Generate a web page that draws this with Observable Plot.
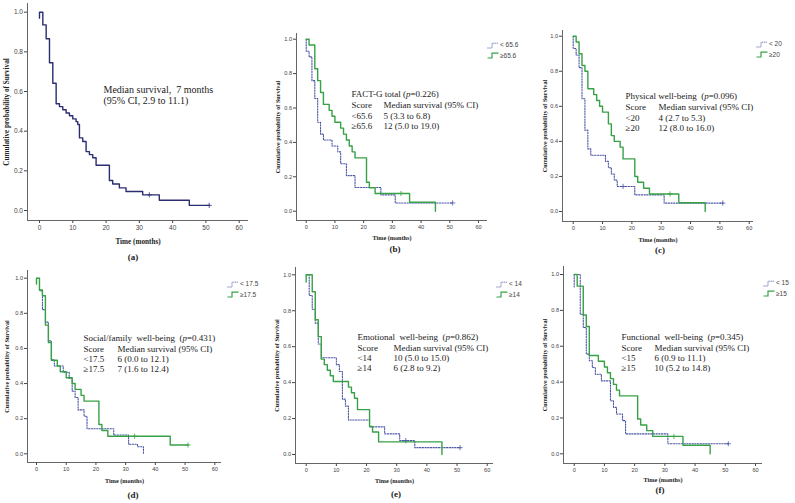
<!DOCTYPE html>
<html>
<head>
<meta charset="utf-8">
<script src="https://cdn.jsdelivr.net/npm/d3@7"></script>
<script src="https://cdn.jsdelivr.net/npm/@observablehq/plot@0.6"></script>
<style>
  body { margin: 0; background: #fff; }
  #fig { position: relative; width: 795px; height: 503px; background: #fff; overflow: hidden; }
  .lbl { position: absolute; font-family: "Liberation Serif", serif; font-weight: bold; font-size: 9px; color: #222; transform: translate(-50%, -50%); white-space: nowrap; }
  .leg { position: absolute; font-family: "Liberation Sans", sans-serif; font-size: 6.5px; color: #444; white-space: nowrap; line-height: 1; }
  .leg div { display: flex; align-items: center; height: 10.5px; }
  .leg svg { margin-right: 1px; }
</style>
</head>
<body>
<div id="fig"></div>
<script>
// ---------------- data ----------------
const xTicks = [0, 10, 20, 30, 40, 50, 60];
const yTicks = [0, 0.2, 0.4, 0.6, 0.8, 1.0];
const xTitle = "Time (months)";
const yTitle = "Cumulative probability of Survival";
const panelLetters = ["(a)", "(b)", "(c)", "(d)", "(e)", "(f)"];
const blue = "#4a55a5";
const green = "#37a146";
const navy = "#2a2d72";

// (a) all patients
const aTimes = [0, 0, 1, 2, 3, 4, 5, 6, 7, 8, 9, 10, 11, 11.5, 12, 13, 14, 15, 16, 17, 21, 22, 24, 26, 31, 36, 45, 51];
const aSurv  = [0.97, 1, 0.936, 0.866, 0.745, 0.642, 0.538, 0.524, 0.508, 0.492, 0.478, 0.462, 0.448, 0.434, 0.366, 0.348, 0.297, 0.282, 0.266, 0.228, 0.151, 0.134, 0.114, 0.096, 0.079, 0.052, 0.026, 0.026];
const aCensT = [33, 51];
const aCensS = [0.079, 0.026];
const aNote = ["Median survival,  7 months", "(95% CI, 2.9 to 11.1)"];

// (b) FACT-G total
const bTitle = "FACT-G total (p=0.226)";
const bLegend = ["< 65.6", "\u226565.6"];
const bScores = ["Score", "<65.6", "\u226565.6"];
const bMedians = ["Median survival (95% CI)", "5 (3.3 to 6.8)", "12 (5.0 to 19.0)"];
const bLowT = [0, 0, 1, 2, 3, 4, 5, 6, 9, 11, 12, 14, 17, 26, 31, 51];
const bLowS = [1, 0.93, 0.897, 0.759, 0.655, 0.517, 0.448, 0.414, 0.379, 0.345, 0.276, 0.207, 0.138, 0.095, 0.048, 0.048];
const bLowCensT = [51], bLowCensS = [0.048];
const bHighT = [0, 1, 3, 4, 5, 6, 8, 9, 10, 12, 13, 14, 15, 16, 17, 21, 22, 24, 36, 45];
const bHighS = [1, 0.966, 0.828, 0.759, 0.69, 0.621, 0.586, 0.552, 0.517, 0.483, 0.448, 0.414, 0.379, 0.345, 0.31, 0.168, 0.136, 0.103, 0.052, 0];
const bHighCensT = [33], bHighCensS = [0.103];

// (c) Physical well-being
const cTitle = "Physical well-being  (p=0.096)";
const cLegend = ["< 20", "\u226520"];
const cScores = ["Score", "<20", "\u226520"];
const cMedians = ["Median survival (95% CI)", "4 (2.7 to 5.3)", "12 (8.0 to 16.0)"];
const cLowT = [0, 0, 1, 2, 3, 4, 5, 6, 11, 12, 13, 14, 15, 21, 31, 51];
const cLowS = [1, 0.93, 0.893, 0.821, 0.643, 0.464, 0.357, 0.321, 0.286, 0.25, 0.214, 0.179, 0.143, 0.095, 0.048, 0.048];
const cLowCensT = [17, 51], cLowCensS = [0.143, 0.048];
const cHighT = [0, 1, 2, 3, 4, 5, 7, 8, 9, 10, 12, 13, 14, 16, 17, 21, 22, 24, 26, 36, 45];
const cHighS = [1, 0.967, 0.9, 0.833, 0.8, 0.7, 0.667, 0.633, 0.6, 0.567, 0.5, 0.433, 0.4, 0.367, 0.3, 0.2, 0.167, 0.133, 0.1, 0.05, 0];
const cHighCensT = [33], cHighCensS = [0.1];

// (d) Social/family well-being
const dTitle = "Social/family  well-being  (p=0.431)";
const dLegend = ["< 17.5", "\u226517.5"];
const dScores = ["Score", "<17.5", "\u226517.5"];
const dMedians = ["Median survival (95% CI)", "6 (0.0 to 12.1)", "7 (1.6 to 12.4)"];
const dLowT = [0, 1, 2, 3, 4, 5, 6, 9, 11, 12, 13, 14, 16, 17, 26, 31, 34, 36];
const dLowS = [1, 0.929, 0.821, 0.75, 0.643, 0.536, 0.5, 0.464, 0.429, 0.357, 0.321, 0.25, 0.214, 0.143, 0.107, 0.054, 0.04, 0];
const dLowCensT = [], dLowCensS = [];
const dHighT = [0, 0, 1, 2, 3, 4, 5, 7, 8, 10, 12, 13, 15, 16, 21, 22, 24, 45, 51];
const dHighS = [0.967, 1, 0.933, 0.9, 0.733, 0.633, 0.533, 0.5, 0.467, 0.433, 0.4, 0.367, 0.333, 0.3, 0.167, 0.133, 0.1, 0.05, 0.05];
const dHighCensT = [33, 51], dHighCensS = [0.1, 0.05];

// (e) Emotional well-being
const eTitle = "Emotional  well-being  (p=0.862)";
const eLegend = ["< 14", "\u226514"];
const eScores = ["Score", "<14", "\u226514"];
const eMedians = ["Median survival (95% CI)", "10 (5.0 to 15.0)", "6 (2.8 to 9.2)"];
const eLowT = [0, 1, 2, 3, 4, 5, 10, 11, 12, 13, 14, 21, 26, 31, 36, 51];
const eLowS = [1, 0.885, 0.808, 0.731, 0.615, 0.538, 0.5, 0.462, 0.308, 0.269, 0.192, 0.154, 0.115, 0.077, 0.038, 0.038];
const eLowCensT = [33, 51], eLowCensS = [0.077, 0.038];
const eHighT = [0, 0, 2, 3, 4, 5, 6, 7, 8, 9, 14, 15, 16, 17, 21, 22, 24, 45];
const eHighS = [0.96, 1, 0.906, 0.75, 0.656, 0.531, 0.5, 0.469, 0.438, 0.406, 0.375, 0.344, 0.313, 0.25, 0.156, 0.125, 0.07, 0];
const eHighCensT = [], eHighCensS = [];

// (f) Functional well-being
const fTitle = "Functional  well-being  (p=0.345)";
const fLegend = ["< 15", "\u226515"];
const fScores = ["Score", "<15", "\u226515"];
const fMedians = ["Median survival (95% CI)", "6 (0.9 to 11.1)", "10 (5.2 to 14.8)"];
const fLowT = [0, 0, 2, 3, 4, 5, 6, 7, 9, 12, 13, 14, 16, 17, 31, 51];
const fLowS = [0.93, 1, 0.778, 0.704, 0.556, 0.519, 0.481, 0.444, 0.407, 0.296, 0.259, 0.222, 0.185, 0.111, 0.056, 0.056];
const fLowCensT = [51], fLowCensS = [0.056];
const fHighT = [0, 1, 3, 4, 5, 8, 10, 11, 12, 13, 14, 15, 21, 22, 24, 26, 36, 45];
const fHighS = [1, 0.935, 0.774, 0.71, 0.548, 0.516, 0.484, 0.452, 0.419, 0.387, 0.355, 0.323, 0.194, 0.161, 0.129, 0.097, 0.048, 0];
const fHighCensT = [33], fHighCensS = [0.097];

// ---------------- helpers ----------------
const pts = (T, S) => T.map((t, i) => ({t, s: S[i]}));

function series(T, S, CT, CS, color, dotted) {
  return {data: pts(T, S), cens: pts(CT, CS), color, dotted};
}

const panels = [
  {letter: panelLetters[0], lay: {axL: 27, axR: 248, axT: 3, axB: 220, x0: 39, x60: 238.7, y1: 11.7, y0: 210},
   ylabDx: -21, timeDy: 21, tickFs: 6.5, labFs: 7.2, noteFs: 10,
   series: [series(aTimes, aSurv, aCensT, aCensS, navy, false)],
   note: {x: 103, y: 89, gap: 11.5, lines: aNote},
   label: {x: 133, y: 257}},
  {letter: panelLetters[1], lay: {axL: 296, axR: 487, axT: 33, axB: 220, x0: 305.7, x60: 478, y1: 38.7, y0: 210.7},
   ylabDx: -18, timeDy: 18, tickFs: 5.6, labFs: 6.2, noteFs: 9,
   series: [series(bLowT, bLowS, bLowCensT, bLowCensS, blue, true), series(bHighT, bHighS, bHighCensT, bHighCensS, green, false)],
   block: {x: 351, x2: 383, y: 94, gap: 10.6, title: bTitle, c1: bScores, c2: bMedians},
   legend: {x: 487, y: 40, labels: bLegend},
   label: {x: 395, y: 249}},
  {letter: panelLetters[2], lay: {axL: 562, axR: 753, axT: 30, axB: 221, x0: 572.7, x60: 748.7, y1: 35.7, y0: 211},
   ylabDx: -17, timeDy: 19, tickFs: 5.6, labFs: 6.2, noteFs: 9,
   series: [series(cLowT, cLowS, cLowCensT, cLowCensS, blue, true), series(cHighT, cHighS, cHighCensT, cHighCensS, green, false)],
   block: {x: 625, x2: 658, y: 96, gap: 10.7, title: cTitle, c1: cScores, c2: cMedians},
   legend: {x: 756, y: 39, labels: cLegend},
   label: {x: 660, y: 250}},
  {letter: panelLetters[3], lay: {axL: 27, axR: 221, axT: 270, axB: 462, x0: 36, x60: 214.3, y1: 277.7, y0: 453.3},
   ylabDx: -20, timeDy: 19, tickFs: 5.6, labFs: 6.2, noteFs: 9,
   series: [series(dLowT, dLowS, dLowCensT, dLowCensS, blue, true), series(dHighT, dHighS, dHighCensT, dHighCensS, green, false)],
   block: {x: 83, x2: 117, y: 338, gap: 10.2, title: dTitle, c1: dScores, c2: dMedians},
   legend: {x: 227, y: 279, labels: dLegend},
   label: {x: 133, y: 495}},
  {letter: panelLetters[4], lay: {axL: 295, axR: 493, axT: 267, axB: 463, x0: 305.7, x60: 486.7, y1: 274.3, y0: 454},
   ylabDx: -18, timeDy: 18, tickFs: 5.6, labFs: 6.2, noteFs: 9,
   series: [series(eLowT, eLowS, eLowCensT, eLowCensS, blue, true), series(eHighT, eHighS, eHighCensT, eHighCensS, green, false)],
   block: {x: 357, x2: 393, y: 337, gap: 10.3, title: eTitle, c1: eScores, c2: eMedians},
   legend: {x: 496, y: 279, labels: eLegend},
   label: {x: 396, y: 494}},
  {letter: panelLetters[5], lay: {axL: 563, axR: 762, axT: 266, axB: 463, x0: 573.7, x60: 755, y1: 274, y0: 453.3},
   ylabDx: -18, timeDy: 17, tickFs: 5.6, labFs: 6.2, noteFs: 9,
   series: [series(fLowT, fLowS, fLowCensT, fLowCensS, blue, true), series(fHighT, fHighS, fHighCensT, fHighCensS, green, false)],
   block: {x: 621, x2: 654, y: 337, gap: 10.3, title: fTitle, c1: fScores, c2: fMedians},
   legend: {x: 763, y: 278, labels: fLegend},
   label: {x: 660, y: 490}}
];

const fig = document.getElementById("fig");
const ML = 26, MT = 6, MR = 6, MB = 32;

function italicP(svg) {
  svg.querySelectorAll("text").forEach(t => {
    if (t.children.length === 0 && t.textContent.includes("(p=")) {
      const [pre, post] = t.textContent.split("(p=");
      t.textContent = "";
      t.appendChild(document.createTextNode(pre + "("));
      const ts = document.createElementNS("http://www.w3.org/2000/svg", "tspan");
      ts.setAttribute("font-style", "italic");
      ts.textContent = "p";
      t.appendChild(ts);
      t.appendChild(document.createTextNode("=" + post));
    }
  });
}

panels.forEach(p => {
  const L = p.lay;
  const kx = (L.x60 - L.x0) / 60;
  const ky = (L.y0 - L.y1);
  const xDom = [(L.axL - L.x0) / kx, (L.axR - L.x0) / kx];
  const yDom = [(L.y0 - L.axB) / ky, (L.y0 - L.axT) / ky];
  const width = (L.axR - L.axL) + ML + MR;
  const height = (L.axB - L.axT) + MT + MB;
  const serif = "Liberation Serif, Times New Roman, serif";

  const marks = [
    Plot.ruleX([xDom[0]], {stroke: "#555", strokeWidth: 0.9}),
    Plot.ruleY([yDom[0]], {stroke: "#555", strokeWidth: 0.9})
  ];
  p.series.forEach(s => {
    marks.push(Plot.line(s.data, {x: "t", y: "s", curve: "step-after", stroke: s.color,
      strokeWidth: s.dotted ? 1.1 : 1.4, strokeDasharray: s.dotted ? "1.3,1.4" : null}));
    if (s.cens.length) marks.push(Plot.dot(s.cens, {x: "t", y: "s", symbol: "plus", r: 1.8, stroke: s.color, strokeWidth: 0.8}));
  });
  marks.push(Plot.text([xTitle], {text: d => d, frameAnchor: "bottom", dy: p.timeDy, fontFamily: serif,
    fontWeight: "bold", fontSize: p.labFs, fill: "#222", lineAnchor: "middle"}));
  marks.push(Plot.text([yTitle], {text: d => d, frameAnchor: "left", dx: p.ylabDx, rotate: -90, fontFamily: serif,
    fontWeight: "bold", fontSize: p.labFs, fill: "#222", textAnchor: "middle", lineAnchor: "middle"}));

  if (p.note) {
    p.note.lines.forEach((ln, i) => {
      marks.push(Plot.text([ln], {text: d => d, frameAnchor: "top-left", dx: p.note.x - L.axL, dy: p.note.y + i * p.note.gap - L.axT,
        fontFamily: serif, fontSize: p.noteFs, fill: "#222", textAnchor: "start", lineAnchor: "middle"}));
    });
  }
  if (p.block) {
    const B = p.block;
    marks.push(Plot.text([B.title], {text: d => d, frameAnchor: "top-left", dx: B.x - L.axL, dy: B.y - L.axT,
      fontFamily: serif, fontSize: p.noteFs, fill: "#222", textAnchor: "start", lineAnchor: "middle"}));
    B.c1.forEach((c, i) => {
      marks.push(Plot.text([c], {text: d => d, frameAnchor: "top-left", dx: B.x - L.axL, dy: B.y + (i + 1) * B.gap - L.axT,
        fontFamily: serif, fontSize: p.noteFs, fill: "#222", textAnchor: "start", lineAnchor: "middle"}));
      marks.push(Plot.text([B.c2[i]], {text: d => d, frameAnchor: "top-left", dx: B.x2 - L.axL, dy: B.y + (i + 1) * B.gap - L.axT,
        fontFamily: serif, fontSize: p.noteFs, fill: "#222", textAnchor: "start", lineAnchor: "middle"}));
    });
  }

  const svg = Plot.plot({
    width, height,
    marginLeft: ML, marginRight: MR, marginTop: MT, marginBottom: MB,
    x: {domain: xDom, ticks: xTicks, tickSize: 3, tickPadding: 2, label: null, tickFormat: d => d},
    y: {domain: yDom, ticks: yTicks, tickSize: 3, tickPadding: 1.5, label: null, tickFormat: d3.format(".1f")},
    style: {fontFamily: "Liberation Sans, Arial, sans-serif", fontSize: p.tickFs + "px", color: "#444",
            background: "transparent", overflow: "visible"},
    marks
  });
  italicP(svg);
  svg.style.position = "absolute";
  svg.style.left = (L.axL - ML) + "px";
  svg.style.top = (L.axT - MT) + "px";
  fig.appendChild(svg);

  // panel letter
  const lab = document.createElement("div");
  lab.className = "lbl";
  lab.textContent = p.letter;
  lab.style.left = p.label.x + "px";
  lab.style.top = p.label.y + "px";
  fig.appendChild(lab);

  // legend
  if (p.legend) {
    const lg = document.createElement("div");
    lg.className = "leg";
    lg.style.left = p.legend.x + "px";
    lg.style.top = p.legend.y + "px";
    p.legend.labels.forEach((t, i) => {
      const s = p.series[i];
      const row = document.createElement("div");
      row.innerHTML = `<svg width="12" height="7"><path d="M0.5,6 H5 V1.2 H11.5" fill="none" stroke="${s.color}" stroke-width="${s.dotted ? 1 : 1.2}" ${s.dotted ? 'stroke-dasharray="1,1"' : ''}/></svg>`;
      const sp = document.createElement("span");
      sp.textContent = t;
      row.appendChild(sp);
      lg.appendChild(row);
    });
    fig.appendChild(lg);
  }
});
</script>
</body>
</html>
